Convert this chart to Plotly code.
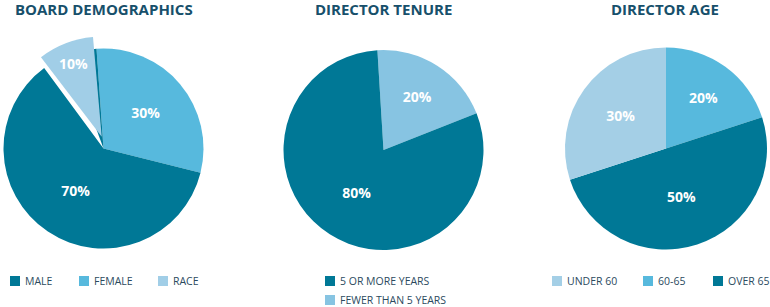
import plotly.graph_objects as go

W, H = 770, 307

# ---------------- data ----------------
titles = ["BOARD DEMOGRAPHICS", "DIRECTOR TENURE", "DIRECTOR AGE"]

demo_labels = ["MALE", "FEMALE", "RACE"]
demo_share = [61, 30, 9]            # slice sizes as drawn
demo_text = ["70%", "30%", "10%"]   # printed labels

tenure_labels = ["5 OR MORE YEARS", "FEWER THAN 5 YEARS"]
tenure_values = [80, 20]

age_labels = ["UNDER 60", "60-65", "OVER 65"]
age_values = [30, 20, 50]

# ---------------- style ----------------
DARK = "#007896"
MID = "#57B9DD"
LIGHT = "#A1CEE7"
TENURE_LIGHT = "#87C4E2"
AGE_LIGHT = "#A4CFE6"
CLEAR = "rgba(0,0,0,0)"
TITLE_COLOR = "#17506b"
LEGEND_COLOR = "#2b4a5e"
FONT = "Open Sans"

demo_colors = {"MALE": DARK, "FEMALE": MID, "RACE": LIGHT}
tenure_colors = {"5 OR MORE YEARS": DARK, "FEWER THAN 5 YEARS": TENURE_LIGHT}
age_colors = {"UNDER 60": AGE_LIGHT, "60-65": MID, "OVER 65": DARK}


def dom(cx, cy, r):
    """pixel centre/radius -> paper domain"""
    return dict(x=[(cx - r) / W, (cx + r) / W],
                y=[(H - cy - r) / H, (H - cy + r) / H])


textfont = dict(family=FONT, size=14, color="white", weight="bold")
common = dict(sort=False, direction="clockwise", showlegend=False,
              hoverinfo="skip", insidetextorientation="horizontal",
              marker_line_width=0, textposition="inside")

fig = go.Figure()

# --- pie 1: base (female, male, race slot) ---
d = dict(zip(demo_labels, demo_share))
t = dict(zip(demo_labels, demo_text))
base_vals = [d["FEMALE"], d["MALE"], d["RACE"] / 2, d["RACE"] / 2]
base_cols = [demo_colors["FEMALE"], demo_colors["MALE"], CLEAR, DARK]
base_text = [t["FEMALE"], t["MALE"], "", ""]
fig.add_trace(go.Pie(labels=["FEMALE", "MALE", "gap", "edge"], values=base_vals,
                     marker_colors=base_cols, text=base_text, textinfo="text",
                     rotation=-4, domain=dom(103.5, 148.5, 100),
                     textfont=textfont, **common))
# --- pie 1: exploded race slice ---
order = ["FEMALE", "MALE", "RACE"]
fig.add_trace(go.Pie(labels=order, values=[d[k] for k in order],
                     marker_colors=[CLEAR, CLEAR, demo_colors["RACE"]],
                     text=["", "", t["RACE"]], textinfo="text",
                     rotation=-5, domain=dom(101.7, 136.7, 100),
                     textfont=textfont, **common))

# --- pie 2 ---
tv = dict(zip(tenure_labels, tenure_values))
order2 = ["FEWER THAN 5 YEARS", "5 OR MORE YEARS"]
fig.add_trace(go.Pie(labels=order2, values=[tv[k] for k in order2],
                     marker_colors=[tenure_colors[k] for k in order2],
                     texttemplate="%{percent:.0%}",
                     rotation=-3.5, domain=dom(383.5, 150, 100),
                     textfont=textfont, **common))

# --- pie 3 ---
av = dict(zip(age_labels, age_values))
order3 = ["60-65", "OVER 65", "UNDER 60"]
fig.add_trace(go.Pie(labels=order3, values=[av[k] for k in order3],
                     marker_colors=[age_colors[k] for k in order3],
                     texttemplate="%{percent:.0%}",
                     rotation=0, domain=dom(666, 148.5, 101),
                     textfont=textfont, **common))

# ---------------- titles ----------------
title_centers = [104, 383.5, 665]
annotations = []
for txt, cx in zip(titles, title_centers):
    annotations.append(dict(text=txt, x=cx / W, y=1 + 2 / H, xref="paper", yref="paper",
                            xanchor="center", yanchor="top", showarrow=False, borderpad=0,
                            font=dict(family=FONT, size=15, color=TITLE_COLOR, weight="bold")))

# ---------------- legends ----------------
legend_groups = [
    (demo_labels, demo_colors, [10, 79, 158], [281, 281, 281]),
    (tenure_labels, tenure_colors, [325, 325], [281, 300]),
    (age_labels, age_colors, [552, 643, 713], [281, 281, 281]),
]
shapes = []
SQ = 10
for labels, cols, xs, ys in legend_groups:
    for lab, x0, yc in zip(labels, xs, ys):
        shapes.append(dict(type="rect", xref="paper", yref="paper",
                           x0=x0 / W, x1=(x0 + SQ) / W,
                           y0=(H - yc - SQ / 2) / H, y1=(H - yc + SQ / 2) / H,
                           fillcolor=cols[lab], line_width=0))
        annotations.append(dict(text=lab, x=(x0 + SQ + 4) / W, y=(H - yc) / H,
                                xref="paper", yref="paper", xanchor="left", yanchor="middle",
                                showarrow=False, borderpad=0,
                                font=dict(family=FONT, size=10.5, color=LEGEND_COLOR)))

fig.update_layout(width=W, height=H, margin=dict(l=0, r=0, t=0, b=0),
                  paper_bgcolor="white", plot_bgcolor="white",
                  annotations=annotations, shapes=shapes)

fig.write_html("out.html")
